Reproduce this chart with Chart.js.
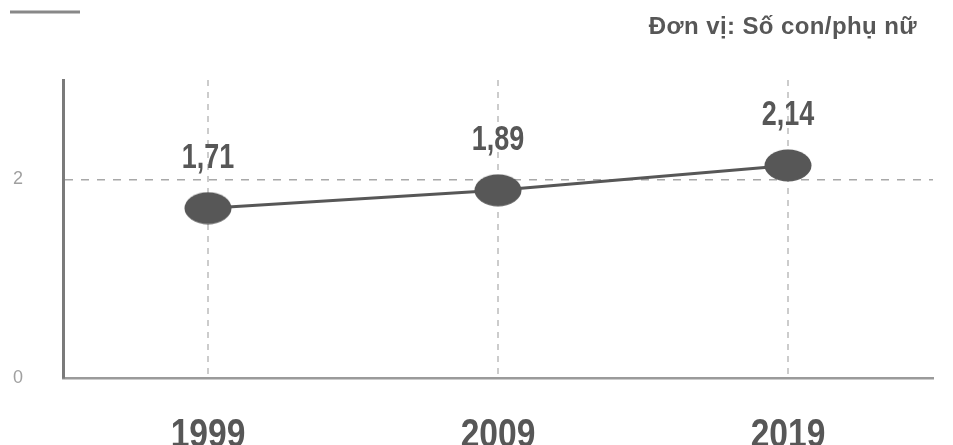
<!DOCTYPE html>
<html>
<head>
<meta charset="utf-8">
<script src="https://cdn.jsdelivr.net/npm/chart.js@4"></script>
<style>
  html, body { margin: 0; padding: 0; background: #fff; overflow: hidden; }
  #wrap { width: 953px; height: 470px; position: relative; }
</style>
</head>
<body>
<div id="wrap"><canvas id="chartTFR"></canvas></div>
<script>
// ===== dữ liệu =====
const years = ['1999', '2009', '2019'];
const tfr = [1.71, 1.89, 2.14];
const yTicks = [0, 2];
const unitLabel = 'Đơn vị: Số con/phụ nữ';

const DARK = '#575757';
const FONT = "'Liberation Sans', Arial, sans-serif";

// chấm hình elip cho các điểm
function ellipseDot(w, h, color) {
  const c = document.createElement('canvas');
  c.width = w; c.height = h;
  const g = c.getContext('2d');
  g.fillStyle = color;
  g.beginPath();
  g.ellipse(w / 2, h / 2, w / 2 - 0.5, h / 2 - 0.5, 0, 0, Math.PI * 2);
  g.fill();
  return c;
}

// chữ đậm, ép hẹp theo chiều ngang
function narrowText(ctx, txt, x, y, size, squeeze) {
  ctx.save();
  ctx.translate(x, y);
  ctx.scale(squeeze, 1);
  ctx.font = 'bold ' + size + 'px ' + FONT;
  ctx.textAlign = 'center';
  ctx.textBaseline = 'alphabetic';
  ctx.fillText(txt, 0, 0);
  ctx.restore();
}

// vạch ngắn góc trái + đơn vị góc phải
const header = {
  id: 'header',
  afterDraw(chart) {
    const ctx = chart.ctx;
    ctx.save();
    ctx.strokeStyle = '#888';
    ctx.lineWidth = 3;
    ctx.beginPath();
    ctx.moveTo(10, 12);
    ctx.lineTo(80, 12);
    ctx.stroke();
    ctx.fillStyle = DARK;
    ctx.font = 'bold 24px ' + FONT;
    ctx.letterSpacing = '0.4px';
    ctx.textAlign = 'right';
    ctx.textBaseline = 'alphabetic';
    ctx.fillText(unitLabel, 917, 34);
    ctx.restore();
  }
};

// nhãn năm dưới trục hoành
const yearLabels = {
  id: 'yearLabels',
  afterDraw(chart) {
    const ctx = chart.ctx;
    const xs = chart.scales.x;
    ctx.save();
    ctx.fillStyle = DARK;
    years.forEach((yr, i) => {
      narrowText(ctx, yr, xs.getPixelForValue(i), chart.chartArea.bottom + 69, 40, 0.84);
    });
    ctx.restore();
  }
};

// số liệu ghi trên mỗi điểm
const valueLabels = {
  id: 'valueLabels',
  afterDatasetsDraw(chart) {
    const ctx = chart.ctx;
    const meta = chart.getDatasetMeta(0);
    ctx.save();
    ctx.fillStyle = DARK;
    meta.data.forEach((pt, i) => {
      const txt = tfr[i].toFixed(2).replace('.', ',');
      narrowText(ctx, txt, pt.x, pt.y - 40, 35, 0.77);
    });
    ctx.restore();
  }
};

const ctxTFR = document.getElementById('chartTFR');

new Chart(ctxTFR, {
  type: 'line',
  data: {
    labels: years,
    datasets: [{
      data: tfr,
      borderColor: DARK,
      borderWidth: 3,
      pointStyle: ellipseDot(48, 33, DARK),
      pointRadius: 17,
      tension: 0
    }]
  },
  options: {
    responsive: true,
    maintainAspectRatio: false,
    animation: false,
    layout: { padding: { top: 80, left: 0, right: 18, bottom: 0 } },
    plugins: {
      legend: { display: false },
      tooltip: { enabled: false }
    },
    scales: {
      x: {
        offset: true,
        afterFit: axis => { axis.height = 92 },
        grid: {
          offset: false,
          color: '#cccccc',
          lineWidth: 2,
          drawTicks: false
        },
        border: { color: '#9a9a9a', width: 2.5, dash: [6, 6] },
        ticks: { display: false }
      },
      y: {
        min: 0,
        max: 3,
        afterBuildTicks: axis => { axis.ticks = yTicks.map(v => ({ value: v })) },
        afterFit: axis => { axis.width = 63 },
        grid: {
          color: c => c.tick && c.tick.value === 0 ? 'rgba(0,0,0,0)' : '#a8a8a8',
          lineWidth: 1.5,
          drawTicks: false
        },
        border: { color: '#7a7a7a', width: 3, dash: [8, 8] },
        ticks: {
          color: '#a0a0a0',
          padding: 40,
          font: { family: FONT, size: 18 }
        }
      }
    }
  },
  plugins: [header, yearLabels, valueLabels]
});
</script>
</body>
</html>
